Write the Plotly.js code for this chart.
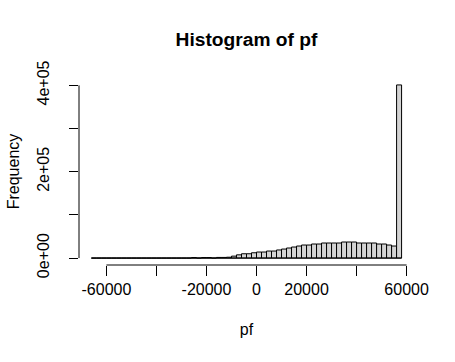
<!DOCTYPE html>
<html>
<head>
<meta charset="utf-8">
<script src="https://cdn.plot.ly/plotly-3.0.1.min.js"></script>
<style>html,body{margin:0;padding:0;background:#fff;}#chart{width:455px;height:362px;}</style>
</head>
<body>
<div id="chart"></div>
<script>
// Bin left edges (bin width 2000)
const binStarts = [-66000,-64000,-62000,-60000,-58000,-56000,-54000,-52000,-50000,-48000,
  -46000,-44000,-42000,-40000,-38000,-36000,-34000,-32000,-30000,-28000,
  -26000,-24000,-22000,-20000,-18000,-16000,-14000,-12000,-10000,-8000,
  -6000,-4000,-2000,0,2000,4000,6000,8000,10000,12000,
  14000,16000,18000,20000,22000,24000,26000,28000,30000,32000,
  34000,36000,38000,40000,42000,44000,46000,48000,50000,52000,
  54000,56000];
const binWidth = 2000;
const counts = [0,0,0,0,0,0,0,0,0,0,
  0,0,0,0,0,0,0,0,0,0,
  1200,0,1200,1200,0,1500,1500,2000,4500,7500,
  10000,10000,12300,14000,14000,16300,16300,18800,20900,23300,
  25600,27900,30200,30200,32600,32600,34900,34900,34900,34900,
  37200,37200,37200,34900,34900,34900,34900,32600,32600,30200,
  27900,401000];
const xTickVals = [-60000,-40000,-20000,0,20000,40000,60000];
const xTickText = ["-60000","","-20000","0","20000","","60000"];
const yTickVals = [0,100000,200000,300000,400000];
const yTickText = ["0e+00","","2e+05","","4e+05"];

const centers = binStarts.map(b => b + binWidth/2);
const xMin = binStarts[0], xMax = binStarts[binStarts.length-1] + binWidth;
const xPad = 0.04*(xMax - xMin);
const yMax = Math.max(...counts);
const yPad = 0.04*yMax;

const font = "Liberation Sans, Arial, sans-serif";

const bars = {
  type: 'bar', x: centers, y: counts, width: binWidth,
  marker: {color: '#D3D3D3', line: {color: '#000', width: 1}},
  hoverinfo: 'skip'
};
const baseline = {
  type: 'scatter', mode: 'lines', x: [xMin, xMax], y: [0, 0],
  line: {color: '#000', width: 1}, hoverinfo: 'skip'
};

const layout = {
  width: 455, height: 362,
  margin: {l: 78.5, r: 41, t: 78.4, b: 97.4},
  paper_bgcolor: '#fff', plot_bgcolor: '#fff',
  showlegend: false, bargap: 0,
  font: {family: font, size: 16, color: '#000'},
  title: {text: '<b>Histogram of pf</b>', font: {family: font, size: 19.2, color: '#000'},
    x: 0.5, xref: 'paper', xanchor: 'center', y: 1 - 39/362, yref: 'container', yanchor: 'middle'},
  xaxis: {
    range: [xMin - xPad, xMax + xPad], showgrid: false, zeroline: false, showline: false,
    tickmode: 'array', tickvals: xTickVals, ticktext: xTickText,
    ticks: 'outside', ticklen: 9.5, tickwidth: 1, tickcolor: '#000',
    tickfont: {family: font, size: 16, color: '#000'},
    title: {text: 'pf', font: {family: font, size: 16, color: '#000'}, standoff: 27}
  },
  yaxis: {
    range: [-yPad, yMax + yPad], showgrid: false, zeroline: false, showline: false,
    tickmode: 'array', tickvals: yTickVals, ticktext: yTickText, tickangle: -90,
    ticks: 'outside', ticklen: 9.5, tickwidth: 1, tickcolor: '#000', ticklabelstandoff: 13,
    tickfont: {family: font, size: 16, color: '#000'},
    title: {text: 'Frequency', font: {family: font, size: 16, color: '#000'}, standoff: 11}
  },
  shapes: [
    {type: 'line', xref: 'x', yref: 'paper', x0: xTickVals[0], x1: xTickVals[xTickVals.length-1], y0: 0, y1: 0,
     line: {color: '#000', width: 1}},
    {type: 'line', xref: 'paper', yref: 'y', x0: 0, x1: 0, y0: yTickVals[0], y1: yTickVals[yTickVals.length-1],
     line: {color: '#000', width: 1}}
  ]
};

Plotly.newPlot('chart', [bars, baseline], layout, {displayModeBar: false, staticPlot: true});
</script>
</body>
</html>
